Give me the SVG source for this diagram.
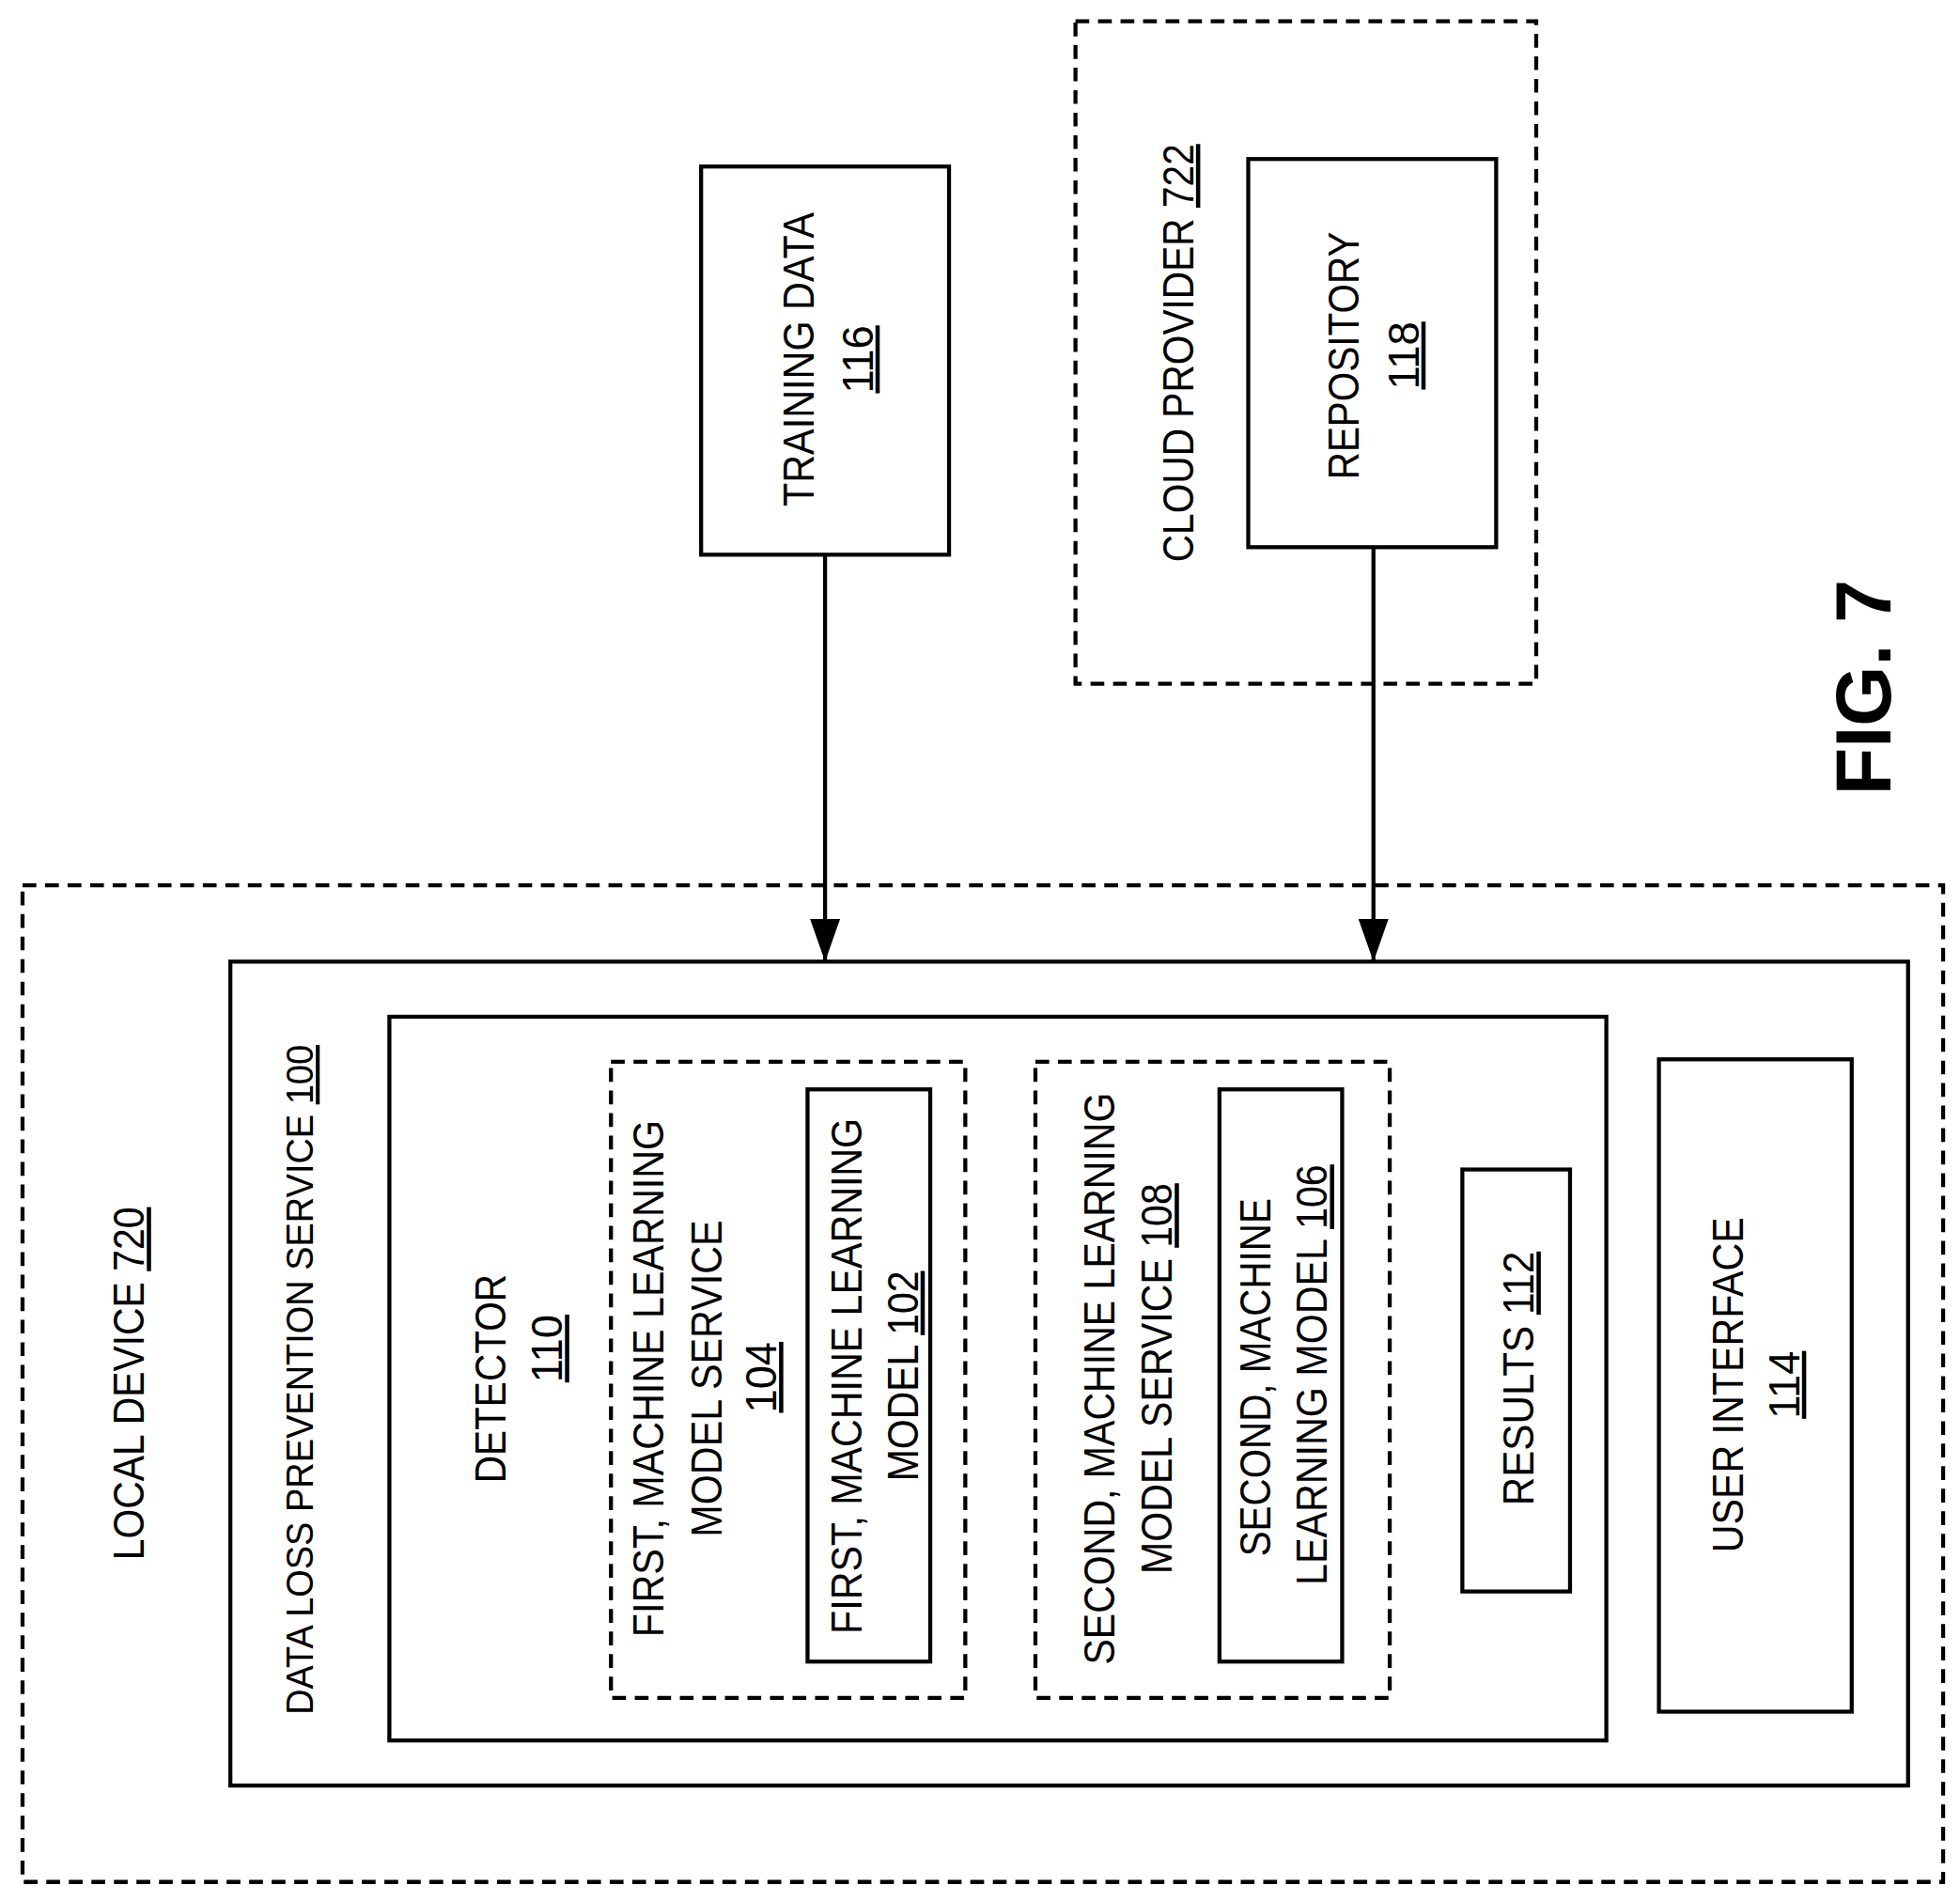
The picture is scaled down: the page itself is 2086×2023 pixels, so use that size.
<svg xmlns="http://www.w3.org/2000/svg" width="2086" height="2023" viewBox="0 0 2086 2023">
<style>
.s{fill:none;stroke:#000;stroke-width:3.2}
.d{fill:none;stroke:#000;stroke-width:3.2;stroke-dasharray:11 7}
text{font-family:"Liberation Sans",Arial,sans-serif;font-size:34px;fill:#000;text-anchor:middle}
.u{text-decoration:underline}
.f{font-size:62px;font-weight:bold}
</style>
<defs>
<marker id="a2" markerWidth="34" markerHeight="24" refX="34" refY="12" orient="auto" markerUnits="userSpaceOnUse"><path d="M0,0 L34,12 L0,24 Z" fill="#000"/></marker></defs>
<rect width="2086" height="2023" fill="#fff"/>
<g transform="scale(1.3325)">
<g id="local-device"><rect class="d" x="18" y="707" width="1534" height="796"/>
<text transform="translate(115,1105) rotate(-90)" textLength="282" lengthAdjust="spacingAndGlyphs">LOCAL DEVICE <tspan class="u">720</tspan></text></g>
<g id="dlp"><rect class="s" x="184" y="768" width="1340" height="658"/>
<text transform="translate(250,1102) rotate(-90)" textLength="535" lengthAdjust="spacingAndGlyphs" style="font-size:31px">DATA LOSS PREVENTION SERVICE <tspan class="u">100</tspan></text></g>
<g id="detector"><rect class="s" x="311" y="812" width="972" height="578"/>
<text transform="translate(404,1101) rotate(-90)" textLength="167" lengthAdjust="spacingAndGlyphs">DETECTOR</text>
<text transform="translate(449,1077) rotate(-90)" class="u">110</text></g>
<g id="first-mls"><rect class="d" x="488" y="848" width="283" height="508"/>
<text transform="translate(530,1101) rotate(-90)" textLength="413" lengthAdjust="spacingAndGlyphs">FIRST, MACHINE LEARNING</text>
<text transform="translate(576,1101) rotate(-90)" textLength="253" lengthAdjust="spacingAndGlyphs">MODEL SERVICE</text>
<text transform="translate(620,1100) rotate(-90)" class="u">104</text></g>
<g id="first-ml"><rect class="s" x="645" y="870" width="98" height="457"/>
<text transform="translate(688,1099) rotate(-90)" textLength="412" lengthAdjust="spacingAndGlyphs">FIRST, MACHINE LEARNING</text>
<text transform="translate(733,1099) rotate(-90)" textLength="168" lengthAdjust="spacingAndGlyphs">MODEL <tspan class="u">102</tspan></text></g>
<g id="second-mls"><rect class="d" x="827" y="848" width="283" height="508"/>
<text transform="translate(890,1101) rotate(-90)" textLength="457" lengthAdjust="spacingAndGlyphs">SECOND, MACHINE LEARNING</text>
<text transform="translate(936,1101) rotate(-90)" textLength="312" lengthAdjust="spacingAndGlyphs">MODEL SERVICE <tspan class="u">108</tspan></text></g>
<g id="second-ml"><rect class="s" x="974" y="870" width="98" height="457"/>
<text transform="translate(1015,1100) rotate(-90)" textLength="286" lengthAdjust="spacingAndGlyphs">SECOND, MACHINE</text>
<text transform="translate(1060,1098) rotate(-90)" textLength="336" lengthAdjust="spacingAndGlyphs">LEARNING MODEL <tspan class="u">106</tspan></text></g>
<g id="results"><rect class="s" x="1168" y="934" width="86" height="337"/>
<text transform="translate(1225,1101) rotate(-90)" textLength="203" lengthAdjust="spacingAndGlyphs">RESULTS <tspan class="u">112</tspan></text></g>
<g id="ui"><rect class="s" x="1325" y="846" width="154" height="521"/>
<text transform="translate(1392,1106) rotate(-90)" textLength="268" lengthAdjust="spacingAndGlyphs">USER INTERFACE</text>
<text transform="translate(1437,1106) rotate(-90)" class="u">114</text></g>
<g id="training"><rect class="s" x="560" y="133" width="198" height="310"/>
<text transform="translate(650,287) rotate(-90)" textLength="235" lengthAdjust="spacingAndGlyphs">TRAINING DATA</text>
<text transform="translate(697,287) rotate(-90)" class="u">116</text></g>
<g id="cloud"><rect class="d" x="859" y="17" width="368" height="529"/>
<text transform="translate(953,282) rotate(-90)" textLength="334" lengthAdjust="spacingAndGlyphs">CLOUD PROVIDER <tspan class="u">722</tspan></text></g>
<g id="repository"><rect class="s" x="997" y="127" width="198" height="310"/>
<text transform="translate(1085,284) rotate(-90)" textLength="198" lengthAdjust="spacingAndGlyphs">REPOSITORY</text>
<text transform="translate(1133,284) rotate(-90)" class="u">118</text></g>
<g id="connectors">
<line class="s" x1="659" y1="443" x2="659" y2="768" marker-end="url(#a2)"/>
<line class="s" x1="1097" y1="437" x2="1097" y2="768" marker-end="url(#a2)"/>
</g>
<text class="f" transform="translate(1510,549) rotate(-90)">FIG. 7</text>
</g>
</svg>
